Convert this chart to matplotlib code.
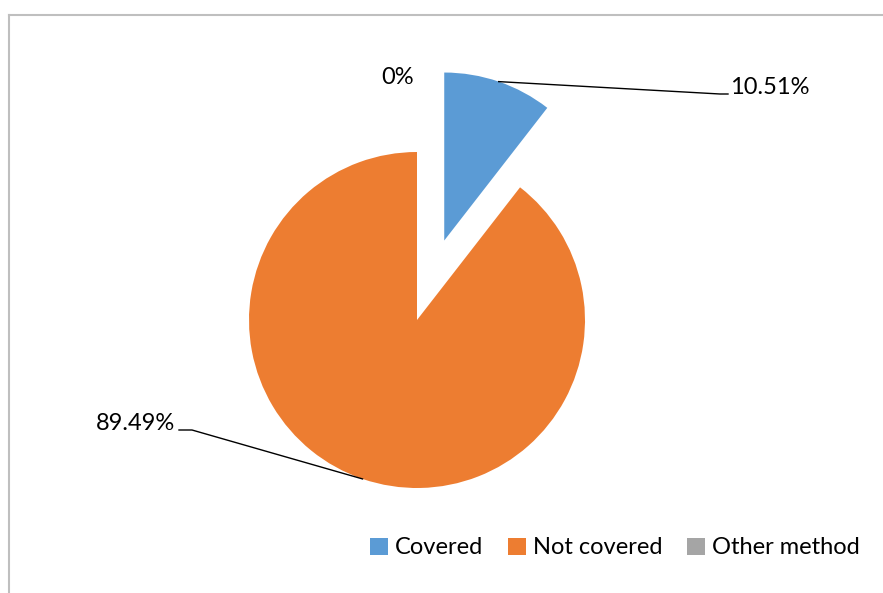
import matplotlib.pyplot as plt
import matplotlib.lines as mlines
import numpy as np

categories = ['Covered', 'Not covered', 'Other method']
shares = [10.51, 89.49, 0.0]
pct_labels = ['10.51%', '89.49%', '0%']
colors = ['#5b9bd5', '#ed7d31', '#a5a5a5']

plt.rcParams['font.family'] = ['Lato', 'DejaVu Sans']

W, H = 883, 593
fig = plt.figure(figsize=(W / 100, H / 100), dpi=100)
ax = fig.add_axes([0, 0, 1, 1])

# work in pixel units so the layout is easy to place
cx, cy, r = 417, H - 320, 168
wedges, _ = ax.pie(shares, colors=colors, startangle=90, counterclock=False,
                   explode=[0.5 * r, 0, 0], center=(cx, cy), radius=r,
                   wedgeprops=dict(linewidth=0), frame=False)
ax.set_xlim(0, W)
ax.set_ylim(0, H)
ax.set_aspect('equal')
ax.axis('off')


def arc_mid(w):
    a = np.deg2rad((w.theta1 + w.theta2) / 2)
    return w.center[0] + w.r * np.cos(a), w.center[1] + w.r * np.sin(a)

fs = 17
# Covered label with leader
x0, y0 = arc_mid(wedges[0])
ax.plot([x0, 720, 728], [y0, H - 94, H - 94], color='black', lw=1)
ax.text(730, H - 88, pct_labels[0], fontsize=fs, va='center', ha='left')

# Not covered label with leader
x1, y1 = arc_mid(wedges[1])
ax.plot([x1, 192, 179], [y1, H - 430, H - 430], color='black', lw=1)
ax.text(175, H - 424, pct_labels[1], fontsize=fs, va='center', ha='right')

# Other method (zero share)
ax.text(414, H - 78, pct_labels[2], fontsize=fs, va='center', ha='right')

leg = fig.legend(wedges, categories, loc='center', ncol=3,
                 bbox_to_anchor=(615 / W, 1 - 548 / H), frameon=False,
                 fontsize=fs, handlelength=0.75, handleheight=0.75,
                 handletextpad=0.3, columnspacing=1.05)

# chart border (runs off the right and bottom edge)
fig.add_artist(mlines.Line2D([9 / W, 9 / W], [0, 1 - 15 / H], color='#bfbfbf', lw=1.5))
fig.add_artist(mlines.Line2D([9 / W, 1], [1 - 15 / H, 1 - 15 / H], color='#bfbfbf', lw=1.5))

fig.savefig('out.png', dpi=100)
